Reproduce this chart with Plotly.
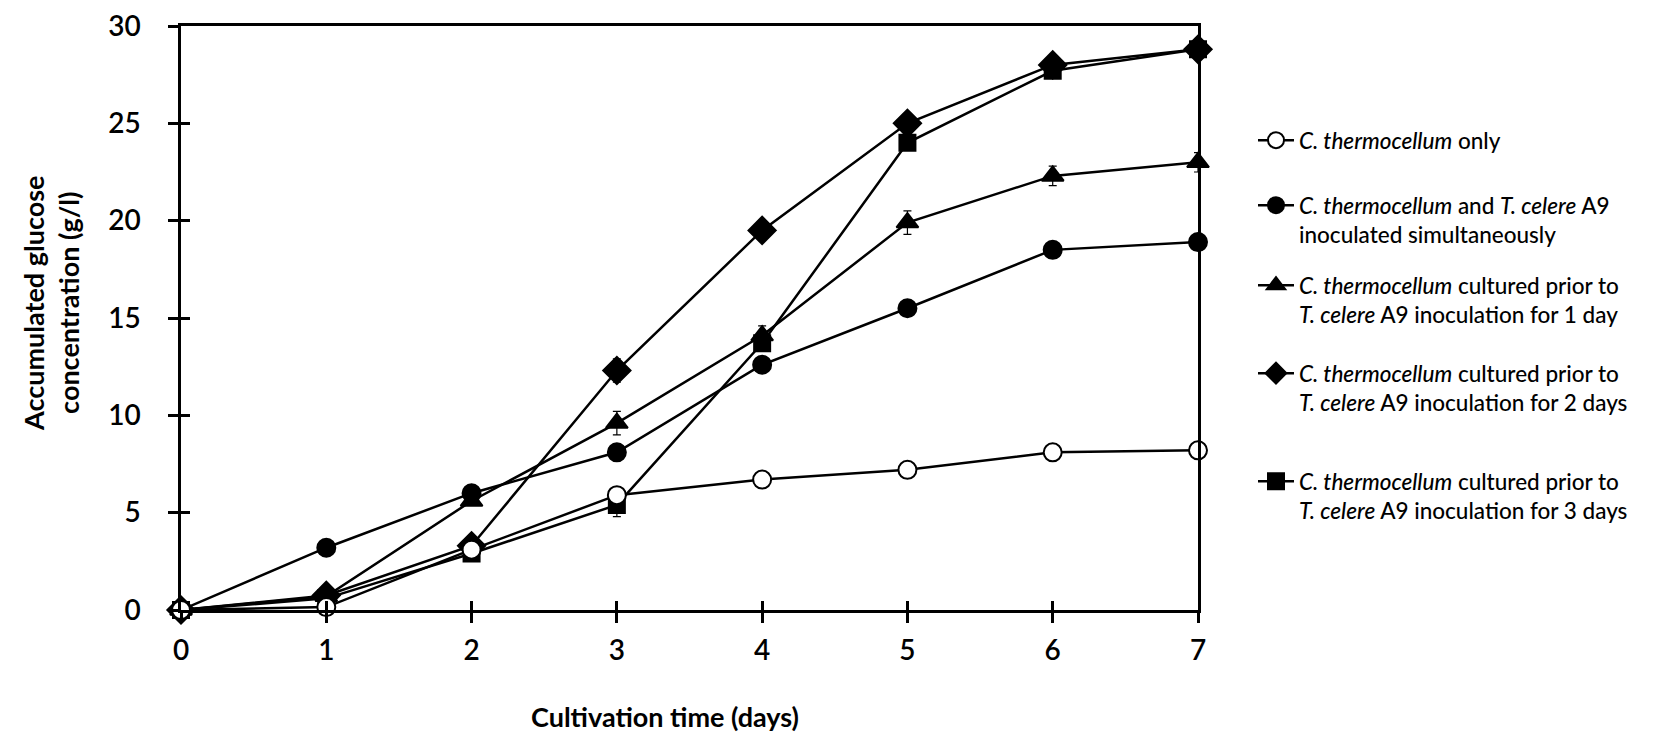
import plotly.graph_objects as go

# 数据：培养时间与累积葡萄糖浓度 (g/l)
days = [0, 1, 2, 3, 4, 5, 6, 7]

only_ct = [0, 0.15, 3.1, 5.9, 6.7, 7.2, 8.1, 8.2]
only_ct_err = [0, 0.1, 0.2, 0.3, 0.2, 0.2, 0.4, 0.3]

simult = [0, 3.2, 6.0, 8.1, 12.6, 15.5, 18.5, 18.9]
simult_err = [0, 0.2, 0.2, 0.3, 0.3, 0.2, 0.3, 0.3]

prior_1d = [0, 0.7, 5.6, 9.6, 14.1, 19.9, 22.3, 23.0]
prior_1d_err = [0, 0.1, 0.2, 0.6, 0.5, 0.6, 0.5, 0.5]

prior_2d = [0, 0.75, 3.3, 12.3, 19.5, 25.0, 28.0, 28.8]
prior_2d_err = [0, 0.1, 0.5, 0.6, 0.3, 0.4, 0.4, 0.5]

prior_3d = [0, 0.6, 2.9, 5.4, 13.7, 24.0, 27.7, 28.8]
prior_3d_err = [0, 0.1, 0.3, 0.6, 0.4, 0.3, 0.3, 0.4]

y_ticks = [0, 5, 10, 15, 20, 25, 30]

labels = [
    "<i>C. thermocellum</i> only",
    "<i>C. thermocellum</i> and <i>T. celere</i> A9<br>inoculated simultaneously",
    "<i>C. thermocellum</i> cultured prior to<br><i>T. celere</i> A9 inoculation for 1 day",
    "<i>C. thermocellum</i> cultured prior to<br><i>T. celere</i> A9 inoculation for 2 days",
    "<i>C. thermocellum</i> cultured prior to<br><i>T. celere</i> A9 inoculation for 3 days",
]

FONT = "Lato"
W, H = 1666, 733
L, R, T, B = 173, 476, 18, 131
plot_w = W - L - R
plot_h = H - T - B


def px_x(p):
    return (p - L) / plot_w


def px_y(p):
    return (H - B - p) / plot_h


series = [
    (simult, simult_err, "circle", "black", 18, "legend2"),
    (prior_1d, prior_1d_err, "triangle-up", "black", 19, "legend3"),
    (prior_2d, prior_2d_err, "diamond", "black", 21, "legend4"),
    (prior_3d, prior_3d_err, "square", "black", 16, "legend5"),
    (only_ct, only_ct_err, "circle", "white", 18, "legend"),
]
label_idx = {"legend": 0, "legend2": 1, "legend3": 2, "legend4": 3, "legend5": 4}

fig = go.Figure()
for vals, err, sym, fill, size, leg in series:
    fig.add_trace(go.Scatter(
        x=days, y=vals,
        mode="lines+markers",
        name=labels[label_idx[leg]],
        legend=leg,
        showlegend=True,
        line=dict(color="black", width=2.5),
        marker=dict(symbol=sym, size=size, color=fill,
                    line=dict(color="black", width=2)),
        error_y=dict(type="data", array=err, color="black",
                     thickness=1.2, width=4),
        cliponaxis=False,
    ))

tick_font = dict(family=FONT, size=28, color="black", weight=600)
axis_common = dict(showgrid=False, zeroline=False, linecolor="black",
                   linewidth=2.5, ticks="outside", ticklen=10,
                   tickwidth=2.5, tickcolor="black", tickfont=tick_font,
                   automargin=False, ticklabeloverflow="allow")

leg_font = dict(family=FONT, size=22.5, color="black", weight=500)
leg_tops = [111, 176, 256, 344, 452]
leg_names = ["legend", "legend2", "legend3", "legend4", "legend5"]
legends = {}
for name, top in zip(leg_names, leg_tops):
    legends[name] = dict(x=px_x(1245), y=px_y(top), xanchor="left",
                         yanchor="top", font=leg_font, valign="top",
                         bgcolor="rgba(0,0,0,0)", itemwidth=36)

fig.update_layout(
    width=W, height=H,
    margin=dict(l=L, r=R, t=T, b=B, autoexpand=False),
    showlegend=True,
    plot_bgcolor="white", paper_bgcolor="white",
    font=dict(family=FONT, color="black"),
    xaxis=dict(range=[0, 7], tickvals=days, mirror=True,
               ticklabelstandoff=4, **axis_common),
    yaxis=dict(range=[0, 30], tickvals=y_ticks, mirror=True,
               ticklabelstandoff=22, **axis_common),
    # 内侧刻度，形成十字刻度效果
    xaxis2=dict(range=[0, 7], tickvals=days, overlaying="x", showline=False,
                showgrid=False, zeroline=False, ticks="inside", ticklen=9,
                tickwidth=2.5, tickcolor="black", showticklabels=False),
    yaxis2=dict(range=[0, 30], tickvals=y_ticks, overlaying="y", showline=False,
                showgrid=False, zeroline=False, ticks="inside", ticklen=9,
                tickwidth=2.5, tickcolor="black", showticklabels=False),
    **legends,
)

fig.add_trace(go.Scatter(x=[], y=[], xaxis="x2", yaxis="y2", showlegend=False))

fig.add_annotation(
    text="<b>Cultivation time (days)</b>", xref="paper", yref="paper",
    x=px_x(657), y=px_y(708), xanchor="center", yanchor="middle",
    showarrow=False, font=dict(family=FONT, size=27, color="black"),
)
fig.add_annotation(
    text="<b>Accumulated glucose<br>concentration (g/l)</b>", xref="paper",
    yref="paper", x=px_x(43), y=px_y(296), xanchor="center",
    yanchor="middle", textangle=-90, showarrow=False,
    font=dict(family=FONT, size=27, color="black"),
)

fig.write_html("out.html")
